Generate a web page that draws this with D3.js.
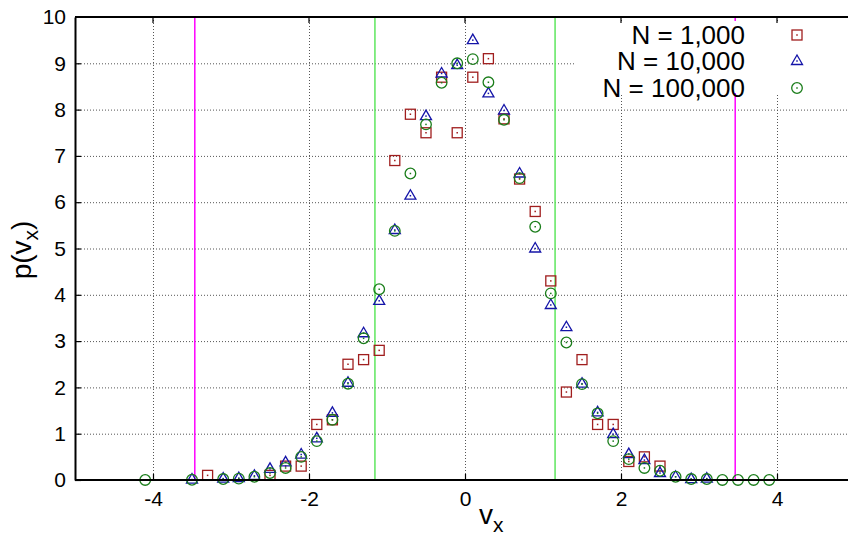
<!DOCTYPE html>
<html>
<head>
<meta charset="utf-8">
<script src="https://cdn.jsdelivr.net/npm/d3@7.9.0/dist/d3.min.js"></script>
<style>
  body { margin: 0; background: #fff; }
  svg { display: block; font-family: "Liberation Sans", Arial, sans-serif; }
</style>
</head>
<body>
<svg id="chart" width="848" height="536"></svg>
<script>
// bin centres
const vx = [-4.1, -3.9, -3.7, -3.5, -3.3, -3.1, -2.9, -2.7, -2.5, -2.3, -2.1,
  -1.9, -1.7, -1.5, -1.3, -1.1, -0.9, -0.7, -0.5, -0.3, -0.1,
  0.1, 0.3, 0.5, 0.7, 0.9, 1.1, 1.3, 1.5, 1.7, 1.9,
  2.1, 2.3, 2.5, 2.7, 2.9, 3.1, 3.3, 3.5, 3.7, 3.9];

// null = empty bin (not drawn)
const n1000 = [null, null, null, null, 0.1, null, null, null, 0.1, 0.3, 0.3,
  1.2, 1.3, 2.5, 2.6, 2.8, 6.9, 7.9, 7.5, 8.7, 7.5,
  8.7, 9.1, 7.8, 6.5, 5.8, 4.3, 1.9, 2.6, 1.2, 1.2,
  0.4, 0.5, 0.3, null, null, null, null, null, null, null];

const n10000 = [null, null, null, 0.01, null, 0.03, 0.04, 0.09, 0.24, 0.38, 0.55,
  0.9, 1.45, 2.1, 3.17, 3.87, 5.4, 6.14, 7.86, 8.78, 8.96,
  9.5, 8.35, 7.98, 6.62, 5.0, 3.78, 3.3, 2.08, 1.46, 0.99,
  0.56, 0.43, 0.15, 0.07, 0.02, 0.03, null, null, null, null];

const n100000 = [0.001, null, null, 0.005, null, 0.02, 0.03, 0.07, 0.15, 0.26, 0.5,
  0.84, 1.3, 2.08, 3.06, 4.12, 5.38, 6.62, 7.68, 8.58, 9.0,
  9.09, 8.59, 7.78, 6.52, 5.47, 4.03, 2.97, 2.07, 1.44, 0.84,
  0.45, 0.26, 0.2, 0.07, 0.02, 0.02, 0.001, 0.001, 0.001, 0.001];

const seriesNames = ['N = 1,000', 'N = 10,000', 'N = 100,000'];
const xTicks = [-4, -2, 0, 2, 4];
const yTicks = [0, 1, 2, 3, 4, 5, 6, 7, 8, 9, 10];
const outerLines = [-2 * Math.sqrt(3), 2 * Math.sqrt(3)];
const innerLines = [-2 / Math.sqrt(3), 2 / Math.sqrt(3)];

const svg = d3.select('#chart');
const x = d3.scaleLinear().domain([-5, 5]).range([75, 855]);
const y = d3.scaleLinear().domain([0, 10]).range([480, 17]);

const colors = ['#a01e1e', '#1414a8', '#1a7d1a'];
const shapes = ['square', 'triangle', 'circle'];

// grid
const grid = svg.append('g').attr('stroke', '#555').attr('stroke-width', 1)
  .attr('stroke-dasharray', '1,2');
grid.selectAll('.gy').data(yTicks.filter(d => d > 0 && d < 10)).join('line')
  .attr('x1', 75).attr('x2', 848)
  .attr('y1', d => y(d) + 0.5).attr('y2', d => y(d) + 0.5);
grid.selectAll('.gx').data(xTicks).join('line')
  .attr('x1', d => Math.round(x(d)) + 0.5).attr('x2', d => Math.round(x(d)) + 0.5)
  .attr('y1', 17).attr('y2', 480);

// vertical reference lines
svg.selectAll('.vo').data(outerLines).join('line')
  .attr('x1', d => x(d)).attr('x2', d => x(d)).attr('y1', 17).attr('y2', 480)
  .attr('stroke', '#ff00ff').attr('stroke-width', 1.5);
svg.selectAll('.vi').data(innerLines).join('line')
  .attr('x1', d => x(d)).attr('x2', d => x(d)).attr('y1', 17).attr('y2', 480)
  .attr('stroke', '#5ee65e').attr('stroke-width', 1.5);

// opaque key background
svg.append('rect').attr('x', 576).attr('y', 21).attr('width', 272).attr('height', 72)
  .attr('fill', '#fff');

function drawMarker(g, shape, color) {
  if (shape === 'square') {
    g.append('rect').attr('x', -5).attr('y', -5).attr('width', 10).attr('height', 10);
  } else if (shape === 'triangle') {
    g.append('path').attr('d', 'M0,-6L5.5,3.5L-5.5,3.5Z');
  } else {
    g.append('circle').attr('r', 5.3);
  }
  g.attr('fill', 'none').attr('stroke', color).attr('stroke-width', 1.3);
  g.append('rect').attr('x', -0.75).attr('y', -0.75).attr('width', 1.5).attr('height', 1.5)
    .attr('fill', color).attr('stroke', 'none');
}

const allSeries = [n1000, n10000, n100000];
allSeries.forEach((vals, si) => {
  const pts = vx.map((v, i) => ({ v, p: vals[i] })).filter(d => d.p !== null);
  const g = svg.append('g');
  pts.forEach(d => {
    const m = g.append('g').attr('transform', `translate(${x(d.v)},${y(d.p)})`);
    drawMarker(m, shapes[si], colors[si]);
  });
});

// axes (plain hyphen minus like the original)
const fmt = d => String(d);
const yAxis = svg.append('g').attr('transform', 'translate(75,0)')
  .call(d3.axisLeft(y).tickValues(yTicks).tickFormat(fmt).tickSize(-6).tickSizeOuter(0).tickPadding(9));
const xAxis = svg.append('g').attr('transform', 'translate(0,480)')
  .call(d3.axisBottom(x).tickValues(xTicks).tickFormat(fmt).tickSize(-6).tickSizeOuter(0).tickPadding(11));
[yAxis, xAxis].forEach(a => {
  a.selectAll('text').attr('font-size', 21).attr('fill', '#000')
    .attr('font-family', '"Liberation Sans", Arial, sans-serif');
  a.selectAll('line').attr('stroke', '#000').attr('stroke-width', 1.2);
  a.select('.domain').attr('stroke', '#000').attr('stroke-width', 2);
});
xAxis.select('.domain').attr('d', 'M75,0H848');
yAxis.selectAll('.tick').filter(d => d === 10).select('line').remove();

// top border with mirrored ticks
svg.append('line').attr('x1', 75).attr('x2', 848).attr('y1', 17).attr('y2', 17)
  .attr('stroke', '#000').attr('stroke-width', 2);
svg.selectAll('.tt').data(xTicks).join('line')
  .attr('x1', d => x(d)).attr('x2', d => x(d)).attr('y1', 17).attr('y2', 23)
  .attr('stroke', '#000').attr('stroke-width', 1.2);

// key
const keyY = [35, 61, 88];
seriesNames.forEach((name, i) => {
  svg.append('text').attr('x', 745).attr('y', keyY[i]).attr('dy', '0.36em')
    .attr('text-anchor', 'end').attr('font-size', 26).text(name);
  const m = svg.append('g').attr('transform', `translate(797,${keyY[i]})`);
  drawMarker(m, shapes[i], colors[i]);
});

// axis labels
const yl = svg.append('text').attr('transform', 'translate(31,250) rotate(-90)')
  .attr('text-anchor', 'middle').attr('font-size', 28);
yl.append('tspan').text('p(v');
yl.append('tspan').attr('font-size', 21).attr('dy', 7).text('x');
yl.append('tspan').attr('dy', -7).text(')');

const xl = svg.append('text').attr('x', 479).attr('y', 524).attr('font-size', 28);
xl.append('tspan').text('v');
xl.append('tspan').attr('font-size', 21).attr('dy', 8).text('x');
</script>
</body>
</html>
